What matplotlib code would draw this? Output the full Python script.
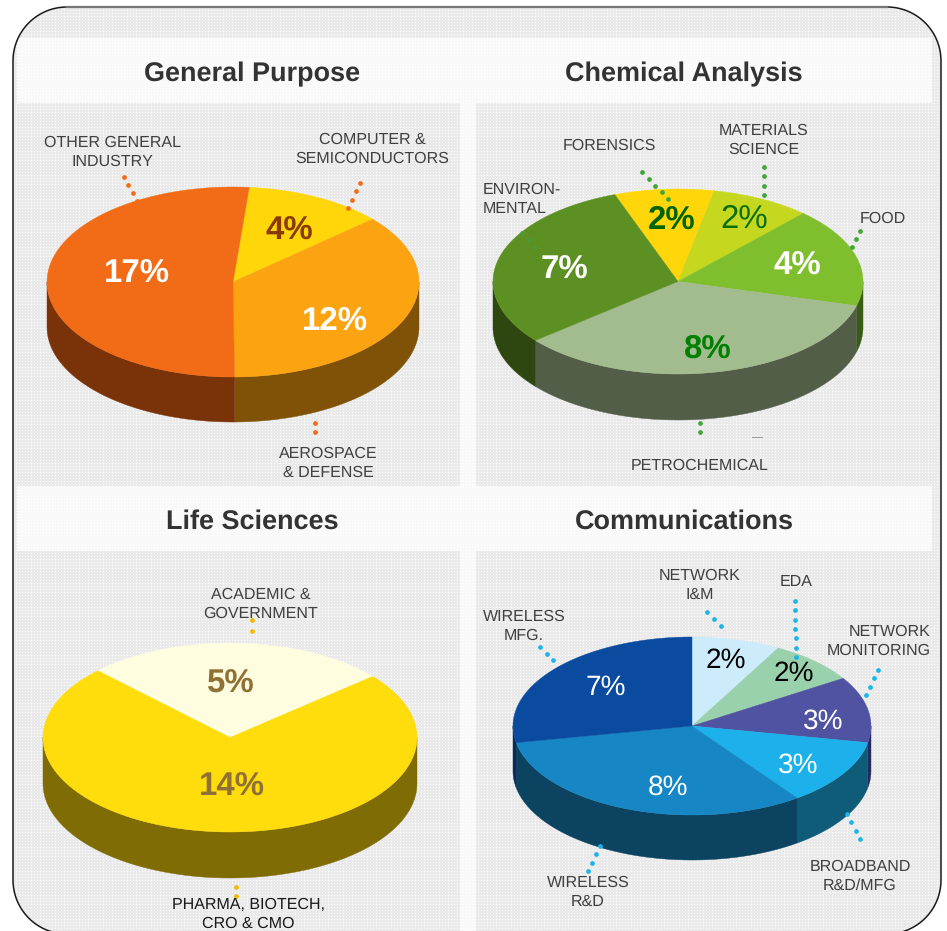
import numpy as np
import matplotlib
matplotlib.use("Agg")
import matplotlib.pyplot as plt
from matplotlib.patches import Polygon

plt.rcParams["font.family"] = ["Liberation Sans", "DejaVu Sans"]
plt.rcParams["text.hinting"] = "no_hinting"
plt.rcParams["text.hinting_factor"] = 1

W, H = 947, 931
TEXT = "#404040"

# General Purpose
gp_values = [4, 12, 17]
gp_top = ["#FFD60A", "#FCA311", "#F26B17"]
gp_side = ["#7F6B05", "#7F5208", "#7A3209"]
gp_pct = ["4%", "12%", "17%"]
gp_pct_colors = ["#8A3A00", "white", "white"]
gp_pct_pos = [(289, 229), (334, 319), (136, 272)]
gp_names = ["OTHER GENERAL\nINDUSTRY", "COMPUTER &\nSEMICONDUCTORS", "AEROSPACE\n& DEFENSE"]
gp_name_pos = [(112, 151), (372, 148), (328, 462)]

# Chemical Analysis
ca_values = [2, 2, 4, 8, 7]
ca_top = ["#FFD60A", "#C5D81F", "#7FBF2E", "#A3BC8F", "#5C9022"]
ca_side = ["#7F6B05", "#626C10", "#385C15", "#535E48", "#2E4710"]
ca_pct = ["2%", "2%", "4%", "8%", "7%"]
ca_pct_colors = ["#006400", "#0A6E0A", "white", "#008000", "white"]
ca_pct_pos = [(671, 218), (744, 217), (797, 264), (707, 347), (564, 268)]
ca_pct_weight = ["bold", "normal", "bold", "bold", "bold"]
ca_names = ["FORENSICS", "MATERIALS\nSCIENCE", "FOOD", "PETROCHEMICAL"]
ca_name_pos = [(609, 145), (764, 139), (883, 218), (700, 465)]

# Life Sciences
ls_values = [5, 14]
ls_top = ["#FFFDE0", "#FFDC0B"]
ls_side = ["#80806F", "#806C05"]
ls_pct = ["5%", "14%"]
ls_pct_pos = [(230, 682), (231, 785)]
ls_names = ["ACADEMIC &\nGOVERNMENT", "PHARMA, BIOTECH,\nCRO & CMO"]
ls_name_pos = [(261, 603), (248, 913)]

# Communications
cm_values = [2, 2, 3, 3, 8, 7]
cm_top = ["#CCEBFB", "#98D1AC", "#5053A2", "#1CB1EB", "#1686C4", "#0A4A9F"]
cm_side = ["#66757D", "#4C6856", "#26285F", "#0E5C78", "#0B4360", "#0A2C5C"]
cm_pct = ["2%", "2%", "3%", "3%", "8%", "7%"]
cm_pct_colors = ["black", "black", "white", "white", "white", "white"]
cm_pct_pos = [(725, 659), (793, 672), (823, 719), (798, 763), (668, 785), (605, 686)]
cm_names = ["NETWORK\nI&M", "EDA", "WIRELESS\nMFG.", "BROADBAND\nR&D/MFG", "WIRELESS\nR&D"]
cm_name_pos = [(700, 584), (796, 581), (524, 625), (860, 875), (588, 891)]


def textura():
    # fine tiled dots, paler in the title bands and the gap between panels
    yy, xx = np.mgrid[0:H, 0:W]
    hueco = ((xx % 3 == 1) & (yy % 3 == 1)).astype(float)
    oscuro = 0.915 + 0.075 * hueco
    claro = 0.975 + 0.025 * hueco
    banda = ((yy >= 38) & (yy < 103)) | ((yy >= 486) & (yy < 551))
    banda = banda & (xx >= 17) & (xx < 932)
    banda = banda | ((xx >= 460) & (xx < 476) & (yy >= 103))
    return np.where(banda, claro, oscuro)


def contorno_marco(x0, y0, x1, y1, r):
    # rounded box as plain points, the bottom edge falls outside the canvas
    t = np.linspace(0, np.pi / 2, 40)
    partes = [
        np.c_[x0 + r - r * np.cos(t), y0 + r - r * np.sin(t)],
        np.c_[x1 - r + r * np.sin(t), y0 + r - r * np.cos(t)],
        np.c_[x1 - r + r * np.cos(t), y1 - r + r * np.sin(t)],
        np.c_[x0 + r - r * np.sin(t), y1 - r + r * np.cos(t)],
    ]
    return np.vstack(partes)


def punto(cx, cy, rx, ry, ang, dy=0):
    t = np.radians(ang)
    return cx + rx * np.sin(t), cy - ry * np.cos(t) + dy


def pie3d(ax, cx, cy, rx, ry, depth, start, values, top, side):
    bordes = start + np.cumsum([0] + list(values)) / sum(values) * 360
    # walls first, only the part on the front half of the ellipse
    for k in range(len(values)):
        for vuelta in (0, 360):
            a0 = max(bordes[k] - vuelta, 90)
            a1 = min(bordes[k + 1] - vuelta, 270)
            if a1 <= a0:
                continue
            ang = np.linspace(a0, a1, 100)
            x, y = punto(cx, cy, rx, ry, ang)
            pts = np.r_[np.c_[x, y], np.c_[x[::-1], y[::-1] + depth]]
            ax.add_patch(Polygon(pts, fc=side[k], ec=side[k], lw=0.3, zorder=2))
    for k in range(len(values)):
        ang = np.linspace(bordes[k], bordes[k + 1], 150)
        x, y = punto(cx, cy, rx, ry, ang)
        pts = np.r_[[[cx, cy]], np.c_[x, y]]
        ax.add_patch(Polygon(pts, fc=top[k], ec=top[k], lw=0.3, zorder=3))


def leader(ax, p0, p1, n, color, z=5, ms=3.4):
    xs = np.linspace(p0[0], p1[0], n)
    ys = np.linspace(p0[1], p1[1], n)
    ax.plot(xs, ys, "o", color=color, ms=ms, mew=0, zorder=z)


def nombres(ax, textos, posiciones, color=TEXT):
    for s, (x, y) in zip(textos, posiciones):
        ax.text(x, y + 1, s, ha="center", va="center", fontsize=11.5, color=color,
                linespacing=1.38, zorder=6)


def porcentajes(ax, textos, posiciones, colores, pesos=None, size=23.5):
    for i, (s, (x, y)) in enumerate(zip(textos, posiciones)):
        peso = pesos[i] if pesos else "bold"
        ax.text(x + 0.5, y + 2, s, ha="center", va="center", fontsize=size, color=colores[i],
                fontweight=peso, zorder=7)


fig = plt.figure(figsize=(W / 100, H / 100), dpi=100)
ax = fig.add_axes([0, 0, 1, 1])

marco = Polygon(contorno_marco(13, 7, 941, 934, 54), closed=True,
                fc="none", ec="#1a1a1a", lw=1.1, zorder=10)
ax.add_patch(marco)
fondo = ax.imshow(textura(), cmap="gray", vmin=0, vmax=1, extent=(0, W, H, 0),
                  interpolation="nearest", zorder=0)
fondo.set_clip_path(marco)
ax.plot([67, 887], [7, 7], color="#777777", lw=1.6, zorder=11)
ax.set_xlim(0, W)
ax.set_ylim(H, 0)
ax.axis("off")

for s, x, y in [("General Purpose", 252, 72), ("Chemical Analysis", 684, 72),
                ("Life Sciences", 252, 520), ("Communications", 684, 520)]:
    ax.text(x, y + 2, s, ha="center", va="center", fontsize=19.25, fontweight="bold",
            color="#333333", zorder=6)

pie3d(ax, 233, 282, 186, 95, 45, 5, gp_values, gp_top, gp_side)
pie3d(ax, 678, 281.5, 185, 92.5, 46, -20, ca_values, ca_top, ca_side)
pie3d(ax, 230, 737.5, 187, 94.5, 46, -45, ls_values, ls_top, ls_side)
pie3d(ax, 692, 726, 179, 89, 45, 0, cm_values, cm_top, cm_side)

naranja = "#F26B17"
leader(ax, (124, 177), (137, 201), 4, naranja, z=1)
leader(ax, (360, 183), (348, 208), 4, naranja)
leader(ax, (315, 423), (315, 432), 2, naranja)

verde = "#3FA535"
leader(ax, (642, 172), (668, 199), 5, verde)
leader(ax, (764, 167), (764, 195), 4, verde)
leader(ax, (860, 231), (852, 247), 3, verde)
leader(ax, (522, 233), (535, 247), 3, "#4C9A30")
leader(ax, (700, 423), (700, 432), 2, verde)
ax.plot([752, 762], [437, 437], color="#999999", lw=0.7, zorder=5)

amarillo = "#F5B800"
leader(ax, (252, 620), (252, 631), 2, amarillo)
leader(ax, (236, 887), (236, 896), 2, amarillo)

azul = "#1DB4EA"
leader(ax, (707, 612), (721, 626), 3, azul)
leader(ax, (795, 601), (796, 657), 7, azul)
leader(ax, (540, 647), (553, 660), 3, azul)
leader(ax, (878, 670), (866, 695), 4, azul)
leader(ax, (847, 814), (860, 839), 4, azul)
leader(ax, (600, 846), (588, 871), 4, azul)

nombres(ax, gp_names, gp_name_pos)
nombres(ax, ca_names, ca_name_pos)
ax.text(483, 199, "ENVIRON-\nMENTAL", ha="left", va="center", fontsize=11.5, color=TEXT,
        linespacing=1.38, zorder=6)
nombres(ax, ls_names[:1], ls_name_pos[:1])
nombres(ax, ls_names[1:], ls_name_pos[1:], color="#1a1a1a")
nombres(ax, cm_names, cm_name_pos)
ax.text(931, 641, "NETWORK\nMONITORING", ha="right", va="center", fontsize=11.5, color=TEXT,
        linespacing=1.38, multialignment="right", zorder=6)

porcentajes(ax, gp_pct, gp_pct_pos, gp_pct_colors)
porcentajes(ax, ca_pct, ca_pct_pos, ca_pct_colors, ca_pct_weight)
porcentajes(ax, ls_pct, ls_pct_pos, ["#8F7035", "#8F7035"])
porcentajes(ax, cm_pct, cm_pct_pos, cm_pct_colors, ["normal"] * 6, size=20)

fig.savefig("out.png", dpi=100)
